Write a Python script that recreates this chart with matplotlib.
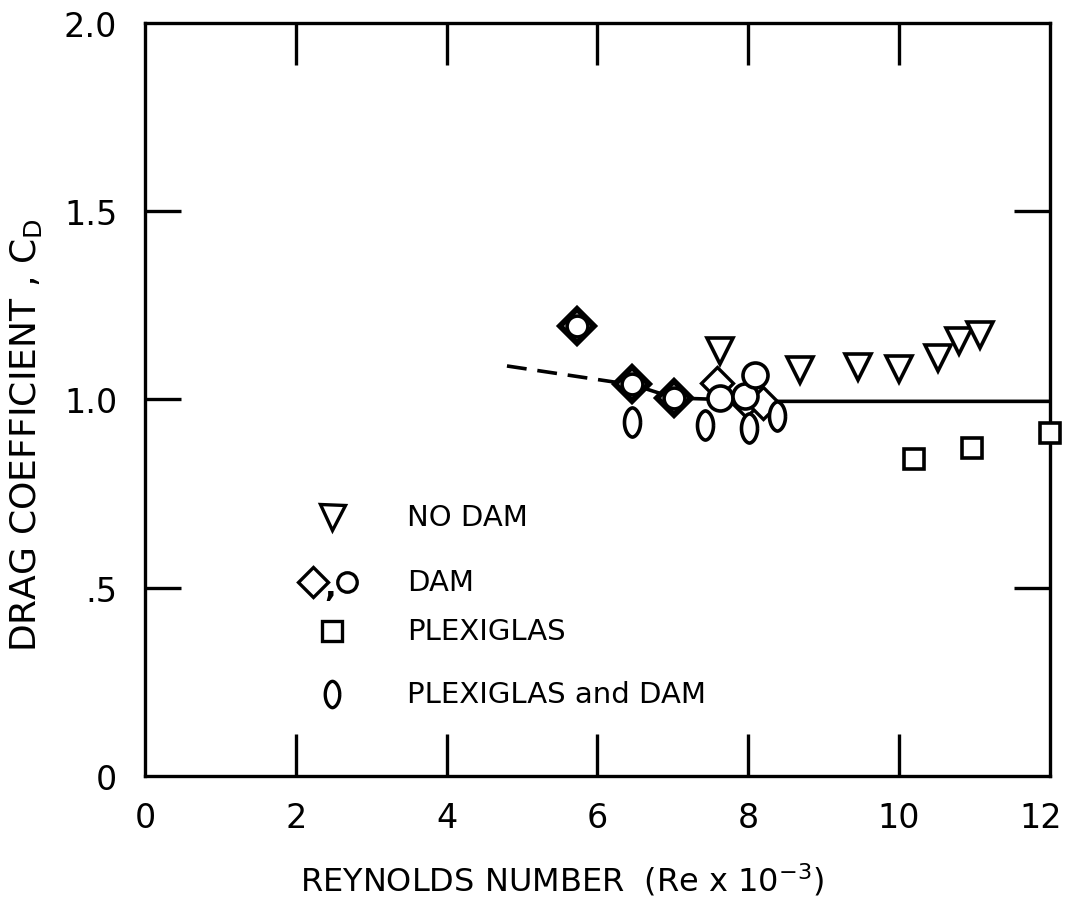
import numpy as np
import matplotlib
matplotlib.use("Agg")
import matplotlib.pyplot as plt
from matplotlib.path import Path
from matplotlib.transforms import ScaledTranslation

plt.rcParams['font.family'] = ['DejaVu Sans']

# ---- data ----
no_dam_x = [7.63, 8.68, 9.45, 10.0, 10.52, 10.8, 11.07]
no_dam_y = [1.13, 1.077, 1.085, 1.08, 1.11, 1.155, 1.17]

dam_diamond_x = [5.73, 6.46, 7.02, 7.59, 7.97, 8.19]
dam_diamond_y = [1.195, 1.04, 1.004, 1.043, 0.995, 0.99]
dam_circle_x = [5.73, 6.46, 7.02, 7.63, 7.96, 8.09]
dam_circle_y = [1.195, 1.04, 1.004, 1.005, 1.009, 1.065]

plexi_x = [10.2, 10.97, 12.0]
plexi_y = [0.842, 0.872, 0.912]

plexi_dam_x = [6.46, 7.43, 8.01, 8.38]
plexi_dam_y = [0.94, 0.933, 0.924, 0.957]

fit_dashed_x = [4.8, 6.3]
fit_dashed_y = [1.089, 1.044]
fit_solid_x = [6.46, 7.02, 8.4, 12.0]
fit_solid_y = [1.04, 1.004, 0.995, 0.995]

x_ticks = [0, 2, 4, 6, 8, 10, 12]
x_tick_labels = ['0', '2', '4', '6', '8', '10', '12']
y_ticks = [0, 0.5, 1.0, 1.5, 2.0]
y_tick_labels = ['0', '.5', '1.0', '1.5', '2.0']

# lens-shaped marker
t = np.linspace(0, 2 * np.pi, 60)
lens = Path(np.column_stack([0.55 * np.cos(t) * np.abs(np.cos(t)) ** 0.15, np.sin(t)]), closed=False)

fig = plt.figure(figsize=(10.68, 9.2), dpi=100)
ax = fig.add_axes([0.1358, 0.1554, 0.983 - 0.1358, 0.974 - 0.1554])

ax.set_xlim(0, 12)
ax.set_ylim(0, 2.0)

# fit line
ax.plot(fit_dashed_x, fit_dashed_y, color='black', lw=2.6, ls=(0, (5.5, 3.0)), zorder=1)
ax.plot(fit_solid_x, fit_solid_y, color='black', lw=2.6, zorder=1)

mk = dict(color='black', markerfacecolor='white', markeredgecolor='black', ls='none')
ax.plot(no_dam_x, no_dam_y, marker='v', ms=19, mew=2.6, zorder=3, **mk)
ax.plot(dam_diamond_x[:3], dam_diamond_y[:3], marker='D', ms=17, mew=4.2, zorder=3, **mk)
ax.plot(dam_diamond_x[3:], dam_diamond_y[3:], marker='D', ms=16, mew=2.4, zorder=2, **mk)
ax.plot(dam_circle_x[:3], dam_circle_y[:3], marker='o', ms=15, mew=2.6, zorder=4, **mk)
ax.plot(dam_circle_x[3:], dam_circle_y[3:], marker='o', ms=18, mew=2.6, zorder=4, **mk)
ax.plot(plexi_x, plexi_y, marker='s', ms=15, mew=2.6, zorder=3, clip_on=False, **mk)
ax.plot(plexi_dam_x, plexi_dam_y, marker=lens, ms=21, mew=2.6, zorder=3, **mk)

# legend (drawn manually)
leg_marker_x = 0.207
leg_text_x = 0.29
rows = [0.344, 0.258, 0.193, 0.109]
tr = ax.transAxes
ax.plot([leg_marker_x], [rows[0]], marker='v', ms=18, mew=2.4, transform=tr, **mk)
ax.plot([0.186], [rows[1]], marker='D', ms=15, mew=2.4, transform=tr, **mk)
ax.text(0.2045, rows[1] - 0.008, ',', transform=tr, fontsize=22, fontweight='bold', ha='center', va='center')
ax.plot([0.223], [rows[1]], marker='o', ms=14, mew=2.4, transform=tr, **mk)
ax.plot([leg_marker_x], [rows[2]], marker='s', ms=14, mew=2.4, transform=tr, **mk)
ax.plot([leg_marker_x], [rows[3]], marker=lens, ms=19, mew=2.4, transform=tr, **mk)
labels = ['NO DAM', 'DAM', 'PLEXIGLAS', 'PLEXIGLAS and DAM']
for r, lab in zip(rows, labels):
    ax.text(leg_text_x, r, lab, transform=tr, fontsize=21, ha='left', va='center')

# axes styling
for s in ax.spines.values():
    s.set_linewidth(2.4)
ax.set_xticks(x_ticks)
ax.set_xticklabels(x_tick_labels, fontsize=24)
ax.set_yticks(y_ticks)
ax.set_yticklabels(y_tick_labels, fontsize=24)
ax.tick_params(axis='x', direction='in', length=30, width=2.4, pad=18, top=True, bottom=True)
ax.tick_params(axis='y', direction='in', length=26, width=2.4, pad=20, left=True, right=True)
# hide ticks at the corners
for tk in ax.xaxis.get_major_ticks():
    if tk.get_loc() in (0, 12):
        tk.tick1line.set_visible(False)
        tk.tick2line.set_visible(False)
for tk in ax.yaxis.get_major_ticks():
    if tk.get_loc() in (0, 2.0):
        tk.tick1line.set_visible(False)
        tk.tick2line.set_visible(False)
    if tk.get_loc() == 1.0:
        tk.tick2line.set_visible(False)
# nudge the last x label inward so it stays inside the figure
last = ax.get_xticklabels()[-1]
last.set_transform(last.get_transform() + ScaledTranslation(-0.09, 0, fig.dpi_scale_trans))

ax.set_xlabel('REYNOLDS NUMBER  (Re x 10$^{-3}$)', fontsize=23)
ax.xaxis.set_label_coords(0.461, -0.112)
ax.set_ylabel('DRAG COEFFICIENT , C$_{\\mathrm{D}}$', fontsize=26)
ax.yaxis.set_label_coords(-0.112, 0.454)

fig.savefig('out.png', dpi=100)
